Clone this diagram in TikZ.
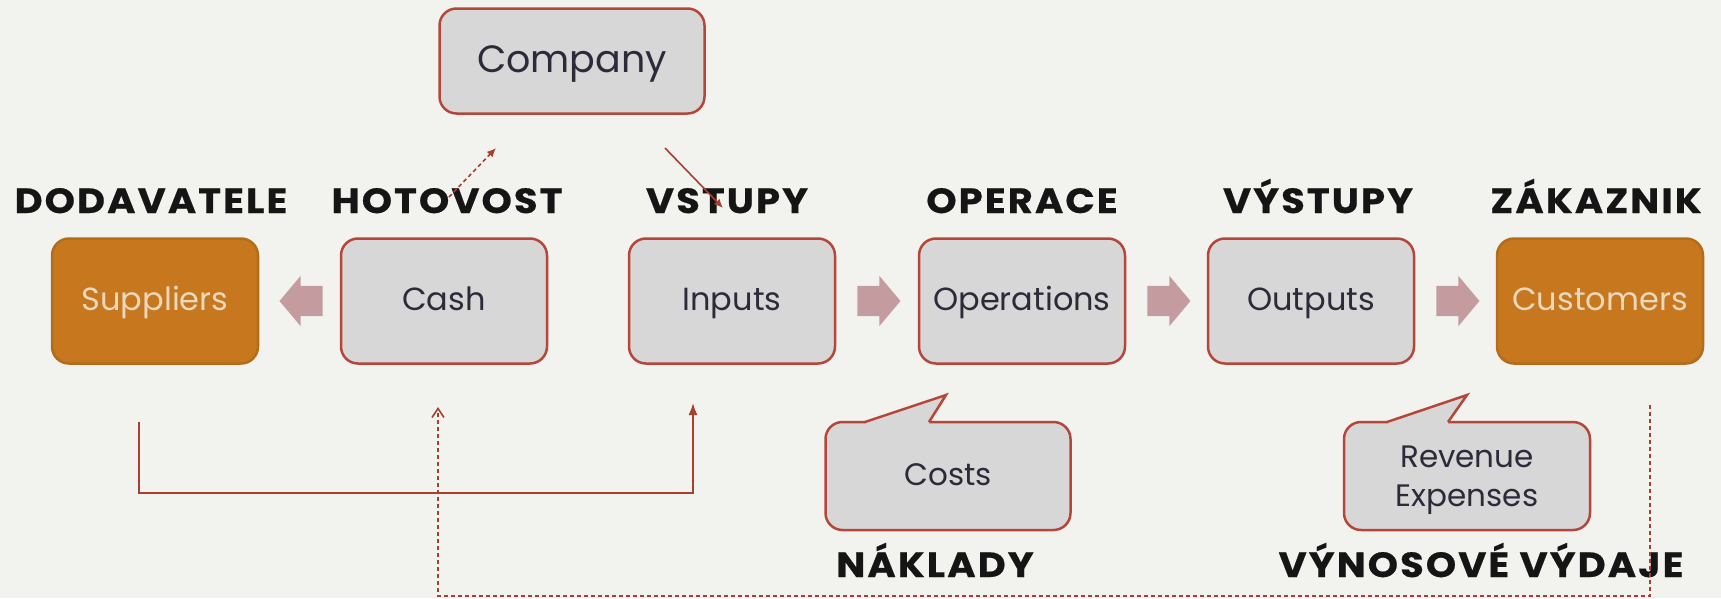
\documentclass[tikz,border=0pt]{standalone}
\usepackage{fontspec}
\setmainfont{Poppins}
\newfontfamily\capsfont[LetterSpace=6,FakeStretch=1.1,FakeBold=0.6]{Poppins}
\usetikzlibrary{arrows.meta,calc,positioning,shapes.arrows}
\definecolor{bgpaper}{HTML}{F2F3EE}
\definecolor{boxgray}{HTML}{D7D7D7}
\definecolor{boxline}{HTML}{B5473A}
\definecolor{boxtext}{HTML}{2B2B3A}
\definecolor{orangefill}{HTML}{C7781E}
\definecolor{orangeline}{HTML}{B36C1C}
\definecolor{orangetext}{HTML}{EAD8BE}
\definecolor{arrowpink}{HTML}{C49C9F}
\definecolor{flowline}{HTML}{A8402F}
\definecolor{labelblack}{HTML}{151515}

\begin{document}
\begin{tikzpicture}[x=1pt,y=-1pt,
    box/.style={draw=boxline, line width=2.5pt, fill=boxgray, rounded corners=17pt,
      minimum width=206pt, minimum height=125pt, inner sep=0pt,
      font=\fontsize{32}{38}\selectfont, text=boxtext, align=center},
    oneline/.style={text height=23pt, text depth=4pt},
    orangebox/.style={box, oneline, draw=orangeline, fill=orangefill, text=orangetext},
    steplabel/.style={anchor=base, inner sep=0pt, text=labelblack,
      font=\capsfont\bfseries\fontsize{35}{40}\selectfont},
    blockarrow/.style={single arrow, fill=arrowpink, inner sep=0pt,
      text height=15pt, text depth=15pt, minimum height=43pt,
      single arrow head extend=10pt, single arrow tip angle=100},
    flow/.style={draw=flowline, line width=1.6pt},
    dashflow/.style={flow, dash pattern=on 4pt off 3pt}]
  \fill[bgpaper] (0,0) rectangle (1721,598);
  \useasboundingbox (0,0) rectangle (1721,598);

  \node[box, oneline, minimum width=265pt, minimum height=105pt, font=\fontsize{38}{44}\selectfont,
    text height=28pt, text depth=5pt] (company) at (572,61) {Company};
  \node[orangebox] (suppliers) at (155,301) {Suppliers};
  \node[box, oneline] (cash) at (444,301) {Cash};
  \node[box, oneline] (inputs) at (732,301) {Inputs};
  \node[box, oneline] (operations) at (1022,301) {Operations};
  \node[box, oneline] (outputs) at (1311,301) {Outputs};
  \node[orangebox] (customers) at (1600,301) {Customers};

  \node[steplabel] (dodavatele) at (151,213) {DODAVATELE};
  \node[steplabel] (hotovost) at (447,213) {HOTOVOST};
  \node[steplabel] (vstupy) at (727,213) {VSTUPY};
  \node[steplabel] (operace) at (1022,213) {OPERACE};
  \node[steplabel] (vystupy) at (1318,213) {VÝSTUPY};
  \node[steplabel] (zakaznik) at (1596,213) {ZÁKAZNIK};

  \node[blockarrow, shape border rotate=180, anchor=tip] (arrcash) at ($(suppliers.east)+(20,0)$) {};
  \node[blockarrow, anchor=tail] (arrinputs) at ($(inputs.east)+(21,0)$) {};
  \node[blockarrow, anchor=tail] (arroperations) at ($(operations.east)+(21,0)$) {};
  \node[blockarrow, anchor=tail] (arroutputs) at ($(outputs.east)+(21,0)$) {};

  % callouts
  \node[box, oneline, minimum width=245pt, minimum height=108pt, font=\fontsize{31}{38}\selectfont] (costs) at (948,476) {Costs};
  \node[box, minimum width=246pt, minimum height=108pt, font=\fontsize{31}{39}\selectfont,
    text depth=-4pt] (revenue) at (1467,476) {Revenue\\Expenses};
  \fill[boxgray] (866,425) -- (866,421) -- (946,395) -- (929,421) -- (929,425) -- cycle;
  \draw[boxline, line width=2.5pt] (865,422) -- (946,395) -- (929,422);
  \fill[boxgray] (1388,425) -- (1388,421) -- (1467,395) -- (1448,421) -- (1448,425) -- cycle;
  \draw[boxline, line width=2.5pt] (1387,422) -- (1467,395) -- (1448,422);

  \node[steplabel] (naklady) at (935,577) {NÁKLADY};
  \node[steplabel] (vynosy) at (1481,577) {VÝNOSOVÉ VÝDAJE};

  \coordinate (cashup) at (449,197);
  \coordinate (companyin) at (496,148);
  \coordinate (companyout) at (665,148);
  \coordinate (inputsdown) at (723,208);
  \coordinate (suppliersfoot) at (139,422);
  \coordinate (inputsfoot) at (693,403);
  \coordinate (customersfoot) at (1650,405);
  \coordinate (cashfoot) at (438,407);

  \draw[dashflow, -{Latex[length=9pt,width=8pt]}] (cashup) -- (companyin);
  \draw[flow, -{Latex[length=9pt,width=8pt]}] (companyout) -- (inputsdown);
  \draw[flow, -{Latex[length=12pt,width=9pt]}] (suppliersfoot) -- ++(0,71) -| (inputsfoot);
  \draw[dashflow, -{Straight Barb[length=9pt,width=12pt]}] (customersfoot) -- (1650,596) -| (cashfoot);
\end{tikzpicture}
\end{document}
